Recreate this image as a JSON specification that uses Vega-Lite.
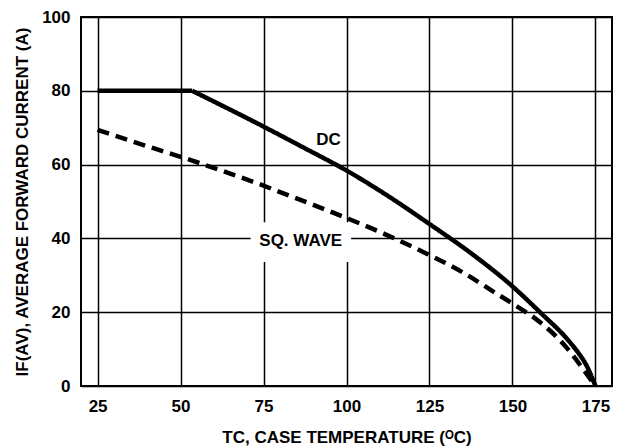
{
  "$schema": "https://vega.github.io/schema/vega-lite/v6.json",
  "autosize": {"type": "none"},
  "width": 531,
  "height": 369,
  "padding": {"left": 81, "top": 17, "right": 16, "bottom": 62},
  "background": "white",
  "config": {
    "view": {"stroke": "black", "strokeWidth": 2},
    "font": "Liberation Sans",
    "axis": {
      "domain": false,
      "ticks": false,
      "grid": true,
      "gridColor": "black",
      "gridWidth": 1.5,
      "gridOpacity": 1,
      "labelFont": "Liberation Sans",
      "labelFontWeight": "bold",
      "labelFontSize": 17,
      "labelColor": "black",
      "titleFont": "Liberation Sans",
      "titleFontWeight": "bold",
      "titleFontSize": 17,
      "titleColor": "black"
    }
  },
  "datasets": {
    "curves": [
      {"series": "DC flat", "tc": 25, "i": 80},
      {"series": "DC flat", "tc": 53.5, "i": 80},
      {"series": "DC", "tc": 53.5, "i": 80},
      {"series": "DC", "tc": 75, "i": 70.3},
      {"series": "DC", "tc": 87.5, "i": 64.4},
      {"series": "DC", "tc": 100, "i": 58.4},
      {"series": "DC", "tc": 112.5, "i": 51.5},
      {"series": "DC", "tc": 125, "i": 43.9},
      {"series": "DC", "tc": 137.5, "i": 36},
      {"series": "DC", "tc": 150, "i": 27},
      {"series": "DC", "tc": 158.3, "i": 20},
      {"series": "DC", "tc": 166.9, "i": 12.3},
      {"series": "DC", "tc": 170, "i": 8.8},
      {"series": "DC", "tc": 172.3, "i": 5.6},
      {"series": "DC", "tc": 175, "i": 0},
      {"series": "SQ", "tc": 25, "i": 69.4},
      {"series": "SQ", "tc": 42.3, "i": 64.3},
      {"series": "SQ", "tc": 53.1, "i": 61.2},
      {"series": "SQ", "tc": 63.5, "i": 58},
      {"series": "SQ", "tc": 73.8, "i": 54.7},
      {"series": "SQ", "tc": 79, "i": 52.9},
      {"series": "SQ", "tc": 90, "i": 49.1},
      {"series": "SQ", "tc": 100.9, "i": 45.2},
      {"series": "SQ", "tc": 112.2, "i": 40.9},
      {"series": "SQ", "tc": 123.4, "i": 36.2},
      {"series": "SQ", "tc": 134.6, "i": 31},
      {"series": "SQ", "tc": 145.1, "i": 25.1},
      {"series": "SQ", "tc": 150.8, "i": 21.9},
      {"series": "SQ", "tc": 157, "i": 18.2},
      {"series": "SQ", "tc": 161.7, "i": 14.7},
      {"series": "SQ", "tc": 166.5, "i": 10.2},
      {"series": "SQ", "tc": 170.8, "i": 5.2},
      {"series": "SQ", "tc": 175, "i": 0}
    ],
    "box": [{"x1": 71.1, "x2": 101.4, "y1": 33.6, "y2": 44.4}],
    "labels": [
      {"tc": 94.6, "i": 66.7, "text": "DC"},
      {"tc": 86.2, "i": 39.4, "text": "SQ. WAVE"}
    ]
  },
  "layer": [
    {
      "data": {"name": "box"},
      "mark": {"type": "rect", "fill": "white"},
      "encoding": {
        "x": {"field": "x1", "type": "quantitative", "scale": {"domain": [25, 175]},
          "axis": {"values": [25, 50, 75, 100, 125, 150, 175], "labelPadding": 12, "title": "TC, CASE TEMPERATURE (ᴼC)", "titlePadding": 15}},
        "x2": {"field": "x2"},
        "y": {"field": "y1", "type": "quantitative", "scale": {"domain": [0, 100]},
          "axis": {"values": [0, 20, 40, 60, 80, 100], "labelPadding": 11, "title": "IF(AV), AVERAGE FORWARD CURRENT (A)", "titlePadding": 10}},
        "y2": {"field": "y2"}
      }
    },
    {
      "data": {"name": "curves"},
      "mark": {"type": "line", "interpolate": "monotone", "strokeWidth": 4.5, "color": "black", "strokeCap": "butt", "strokeJoin": "round"},
      "encoding": {
        "x": {"field": "tc", "type": "quantitative"},
        "y": {"field": "i", "type": "quantitative"},
        "detail": {"field": "series"},
        "strokeDash": {"field": "series", "type": "nominal", "scale": {"domain": ["DC flat", "DC", "SQ"], "range": [[1, 0], [1, 0], [12, 7]]}, "legend": null}
      }
    },
    {
      "data": {"name": "labels"},
      "mark": {"type": "text", "font": "Liberation Sans", "fontWeight": "bold", "fontSize": 17, "color": "black"},
      "encoding": {
        "x": {"field": "tc", "type": "quantitative"},
        "y": {"field": "i", "type": "quantitative"},
        "text": {"field": "text"}
      }
    }
  ]
}
